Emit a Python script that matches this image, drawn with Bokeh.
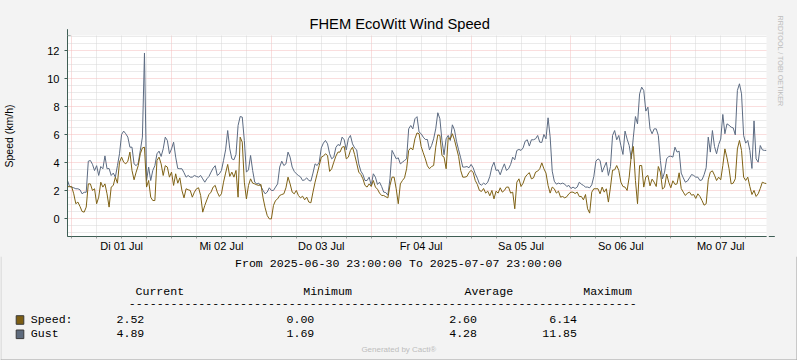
from bokeh.plotting import figure
from bokeh.layouts import column
from bokeh.models import Range1d, FixedTicker, Arrow, NormalHead, Title
from bokeh.core.properties import value
from bokeh.embed import file_html
from bokeh.resources import INLINE

# ---------------- data ----------------
title_text = "FHEM EcoWitt Wind Speed"
y_label = "Speed (km/h)"
side_text = "RRDTOOL / TOBI OETIKER"
footer_text = "Generated by Cacti\u00ae"
period_text = "From 2025-06-30 23:00:00 To 2025-07-07 23:00:00"

# half-hourly samples, hours since 2025-06-30 23:00 (0 ... 168)
speed = [
    2.3, 2.3, 2.3, 1.79, 1.08, 1.2, 0.89, 0.53, 0.48, 0.84,
    2.5, 2.5, 2.03, 2.15, 1.08, 1.55, 2.62, 2.27, 2.5, 1.79,
    0.84, 2.27, 2.39, 2.98, 2.55, 4.05, 4.41, 4.05, 3.93, 4.12,
    4.77, 3.46, 2.79, 3.34, 3.8, 4.65, 5.07, 5.12, 2.27, 2.74,
    1.55, 1.31, 1.31, 4.17, 4.41, 3.93, 3.1, 3.8, 3.7, 2.98,
    3.34, 2.39, 3.22, 2.55, 2.93, 2.03,
    1.5, 2.15, 2.08, 2.03, 1.55, 1.91, 2.15, 2.22, 1.67, 0.48,
    0.96, 1.36, 1.74, 1.91, 2.27, 2.39, 1.91, 1.6, 1.79, 2.62,
    3.27, 3.89, 3.03, 3.34, 2.98, 3.46, 1.55, 5.84, 5.48, 2.62,
    1.43, 2.39, 2.86, 2.55, 2.5, 2.43, 2.39, 2.46, 1.5, 0.79,
    0.24, 0.0, 0.0, 0.96, 1.31, 1.43, 1.67, 1.74, 1.79, 2.22,
    2.98, 2.5, 1.91, 1.79, 2.03, 1.67,
    1.5, 1.62, 1.36, 1.55, 1.2, 1.15, 1.91, 2.62, 3.22, 3.81,
    4.41, 4.48, 4.65, 4.53, 3.39, 3.58, 4.05, 4.48, 4.77, 4.77,
    5.12, 5.17, 4.29, 4.41, 4.89, 5.12, 4.6, 3.98, 3.34, 3.17,
    2.86, 2.39, 2.27, 2.5, 2.31, 2.74, 2.27, 2.12, 1.84, 1.67,
    1.67, 1.58, 1.5, 2.39, 2.98, 2.98, 2.15, 1.08, 2.5, 2.74,
    2.93, 3.58, 4.89, 5.07, 4.93, 5.72,
    6.14, 6.08, 5.17, 4.72, 4.29, 3.79, 3.58, 3.74, 3.81, 5.12,
    6.0, 5.96, 4.53, 4.41, 3.58, 5.79, 5.7, 6.08, 5.65, 5.05,
    4.46, 3.46, 2.98, 2.98, 3.03, 3.32, 3.46, 3.32, 2.74, 2.46,
    2.03, 1.96, 2.17, 1.84, 1.98, 1.65, 2.03, 1.43, 1.98, 1.84,
    2.22, 1.91, 2.03, 2.27, 2.27, 1.84, 1.91, 0.72, 2.62, 2.86,
    2.31, 2.55, 2.98, 3.17,
    3.3, 2.86, 2.93, 3.34, 3.41, 3.58, 4.0, 3.58, 3.27, 2.39,
    1.84, 2.27, 2.15, 1.84, 1.98, 1.55, 1.6, 1.5, 1.58, 1.79,
    1.91, 1.91, 1.81, 1.91, 1.6, 1.6, 1.36, 1.74, 0.72, 0.41,
    1.91, 2.15, 2.15, 2.15, 1.79, 2.27, 1.91, 2.15, 1.2, 2.27,
    3.48, 3.5, 3.81, 3.46, 2.62, 2.31, 2.27, 2.03, 2.98, 4.53,
    5.17, 2.74, 1.08, 3.81, 3.81, 2.27,
    3.0, 3.1, 2.36, 2.84, 2.62, 2.31, 3.74, 3.34, 2.12, 2.27,
    3.2, 2.62, 2.22, 2.72, 2.46, 2.5, 3.29, 2.17, 1.91, 1.67,
    1.84, 1.91, 1.69, 1.74, 1.46, 1.79, 1.6, 1.31, 0.98, 1.08,
    2.79, 3.34, 3.43, 3.12, 2.74, 2.98, 2.79, 3.81, 5.0, 4.36,
    3.58, 2.5, 2.55, 2.86, 5.0, 5.6, 4.89, 2.98, 2.74, 2.98,
    2.31, 1.74, 2.03, 1.6, 1.79, 2.17, 2.62, 2.55, 2.52,
]

gust = [
    2.74, 2.31, 2.27, 2.22, 2.15, 2.15, 2.08, 1.79, 1.9, 1.9,
    4.12, 4.17, 3.9, 3.45, 3.8, 3.1, 3.74, 3.58, 4.5, 3.58,
    3.6, 3.1, 3.27, 2.98, 3.8, 4.65, 6.03, 6.27, 6.08, 5.84,
    5.12, 5.12, 3.93, 3.8, 3.98, 4.89, 5.84, 11.85, 2.74, 3.7,
    2.74, 3.46, 3.8, 4.65, 4.84, 4.46, 5.0, 5.84, 5.6, 4.65,
    5.0, 5.48, 4.41, 3.6, 3.58, 3.58,
    3.3, 2.98, 3.1, 2.98, 2.98, 3.1, 3.03, 2.98, 3.1, 2.86,
    2.62, 2.86, 3.03, 3.34, 3.62, 3.8, 3.1, 3.22, 3.46, 4.17,
    4.93, 6.31, 5.0, 4.29, 4.22, 4.6, 6.67, 7.31, 7.27, 5.6,
    3.34, 3.5, 4.53, 3.46, 2.62, 2.5, 2.55, 2.31, 2.03, 1.79,
    1.91, 2.22, 2.03, 2.03, 2.27, 2.5, 3.7, 4.12, 3.81, 3.93,
    4.77, 4.41, 3.7, 3.39, 3.22, 3.1,
    3.0, 2.74, 2.79, 2.93, 2.74, 2.7, 3.27, 3.93, 3.81, 4.05,
    5.07, 5.41, 5.6, 5.36, 4.65, 4.29, 4.41, 5.1, 5.31, 5.24,
    5.84, 5.65, 4.93, 5.72, 5.96, 5.36, 5.07, 4.93, 3.93, 3.41,
    3.17, 2.74, 2.74, 2.98, 2.39, 3.22, 2.98, 2.46, 2.62, 2.31,
    1.91, 1.88, 1.69, 2.86, 4.89, 4.6, 4.29, 4.36, 3.93, 4.05,
    4.17, 4.29, 6.43, 6.67, 6.43, 7.15,
    7.3, 6.2, 6.08, 5.84, 5.67, 5.67, 4.93, 5.24, 5.72, 6.43,
    7.58, 7.15, 5.6, 4.58, 5.72, 5.96, 5.6, 6.72, 6.36, 5.53,
    4.93, 4.36, 3.7, 3.7, 3.74, 3.65, 3.89, 3.65, 3.22, 2.91,
    2.5, 2.41, 2.55, 2.46, 2.62, 3.03, 3.7, 4.05, 3.46, 3.5,
    3.15, 3.58, 3.93, 3.46, 3.58, 3.89, 4.41, 4.22, 4.89, 4.96,
    4.89, 5.07, 5.55, 5.65,
    5.2, 5.65, 5.65, 5.72, 5.96, 5.48, 5.46, 6.03, 5.72, 7.22,
    5.86, 3.41, 2.69, 2.48, 2.55, 2.5, 2.55, 2.48, 2.31, 2.39,
    2.17, 2.27, 2.17, 2.27, 2.62, 2.48, 2.39, 2.27, 2.27, 2.22,
    2.43, 3.03, 4.12, 4.29, 4.17, 3.34, 3.7, 4.05, 3.1, 3.74,
    5.96, 6.31, 5.65, 5.96, 5.24, 4.6, 6.27, 5.7, 5.24, 4.29,
    5.84, 7.31, 6.79, 8.93, 9.41, 9.17,
    7.7, 7.98, 6.43, 6.08, 6.43, 6.43, 5.96, 4.17, 2.86, 3.34,
    4.29, 4.46, 4.48, 4.41, 5.12, 4.77, 4.84, 3.27, 2.93, 2.62,
    2.7, 2.93, 3.17, 3.1, 2.98, 2.98, 2.74, 2.79, 3.15, 3.65,
    5.84, 4.77, 6.31, 5.17, 4.65, 5.31, 5.7, 7.46, 6.08, 6.79,
    6.69, 6.55, 6.5, 6.0, 9.17, 9.65, 8.93, 5.96, 5.41, 5.6,
    4.89, 3.6, 7.0, 4.29, 4.05, 5.24, 4.93, 4.89, 4.89,
]

hours = [k * 0.5 for k in range(len(gust))]

day_ticks = [13, 37, 61, 85, 109, 133, 157]
day_labels = ["Di 01 Jul", "Mi 02 Jul", "Do 03 Jul", "Fr 04 Jul", "Sa 05 Jul", "So 06 Jul", "Mo 07 Jul"]
midnights = [1, 25, 49, 73, 97, 121, 145]
y_ticks = [0, 2, 4, 6, 8, 10, 12]

series_names = ["Speed:", "Gust"]
stat_headers = ["Current", "Minimum", "Average", "Maximum"]
speed_stats = ["2.52", "0.00", "2.60", "6.14"]
gust_stats = ["4.89", "1.69", "4.28", "11.85"]

# ---------------- styles ----------------
SPEED_COLOR = "#7F6215"
SPEED_BOX = "#7D5E14"
GUST_COLOR = "#5C6B82"
GUST_BOX = "#5E6B7D"
AXIS_COLOR = "#3E5E55"
MGRID = "#F4BCBC"
GRID = "#D6D6D6"
BACK = "#F3F3F3"
SHADE_A = "#CFCFCF"
SHADE_B = "#9E9E9E"

W = 797
H_MAIN = 256
H_LEG = 104
FRAME_L, FRAME_R, FRAME_T, FRAME_B = 66, 766, 35, 236
X0, X1 = 0, 168
Y0, Y1 = -1.26, 13.1

p = figure(width=W, height=H_MAIN, output_backend="svg", toolbar_location=None,
           title=title_text,
           x_range=Range1d(X0, X1), y_range=Range1d(Y0, Y1),
           min_border_left=FRAME_L, min_border_right=W - FRAME_R,
           min_border_top=FRAME_T, min_border_bottom=H_MAIN - FRAME_B,
           background_fill_color="#FFFFFF", border_fill_color=BACK,
           outline_line_color=None)
p.frame_align = False

p.title.align = "left"
p.title.offset = 242
p.title.standoff = 7
p.title.text_font = "Liberation Sans"
p.title.text_font_size = "14.7px"
p.title.text_font_style = "normal"
p.title.text_color = "#000000"

p.add_layout(Title(text=side_text, align="left", offset=-20, standoff=18,
                   vertical_align="bottom",
                   text_font="Liberation Sans", text_font_size="7.2px",
                   text_font_style="normal", text_color="#BDBDBD"), "right")

# grids
six_hours = list(range(1, 168, 6))
minor_x = [h for h in six_hours if h not in midnights]
p.xgrid.ticker = FixedTicker(ticks=midnights, minor_ticks=minor_x)
p.xgrid.grid_line_color = MGRID
p.xgrid.grid_line_dash = "1 1"
p.xgrid.minor_grid_line_color = GRID
p.xgrid.minor_grid_line_dash = "1 1"

minor_y = [k * 0.5 for k in range(-2, 27) if (k * 0.5) not in y_ticks]
p.ygrid.ticker = FixedTicker(ticks=y_ticks, minor_ticks=minor_y)
p.ygrid.grid_line_color = MGRID
p.ygrid.grid_line_dash = "1 1"
p.ygrid.minor_grid_line_color = GRID
p.ygrid.minor_grid_line_dash = "1 1"

# axes
p.xaxis.ticker = FixedTicker(ticks=day_ticks, minor_ticks=[h for h in six_hours if h not in day_ticks])
p.xaxis.major_label_overrides = {t: l for t, l in zip(day_ticks, day_labels)}
p.xaxis.major_tick_line_color = "#A0A0A0"
p.xaxis.major_tick_out = 2
p.xaxis.major_tick_in = 0
p.xaxis.minor_tick_line_color = "#A0A0A0"
p.xaxis.minor_tick_out = 2
p.xaxis.minor_tick_in = 0
p.xaxis.major_label_standoff = 1
p.xaxis.axis_line_color = AXIS_COLOR
p.xaxis.major_label_text_font = "Liberation Sans"
p.xaxis.major_label_text_font_size = "11px"
p.xaxis.major_label_text_color = "#000000"

p.yaxis.ticker = FixedTicker(ticks=y_ticks)
p.yaxis.major_tick_out = 3
p.yaxis.major_tick_in = 0
p.yaxis.major_tick_line_color = AXIS_COLOR
p.yaxis.minor_tick_line_color = None
p.yaxis.major_label_standoff = 5
p.yaxis.axis_line_color = AXIS_COLOR
p.yaxis.major_label_text_font = "Liberation Sans"
p.yaxis.major_label_text_font_size = "11px"
p.yaxis.major_label_text_color = "#000000"
p.yaxis.axis_label = y_label
p.yaxis.axis_label_standoff = 29
p.yaxis.axis_label_text_font = "Liberation Sans"
p.yaxis.axis_label_text_font_size = "10.5px"
p.yaxis.axis_label_text_font_style = "normal"
p.yaxis.axis_label_text_color = "#000000"

# series
p.line(hours, gust, line_color=GUST_COLOR, line_width=1)
p.line(hours, speed, line_color=SPEED_COLOR, line_width=1)

# axis arrows (RRDtool style)
p.add_layout(Arrow(x_start=0, y_start=Y0, x_end=0, y_end=13.55,
                   line_color=AXIS_COLOR, line_width=1,
                   end=NormalHead(size=6, fill_color=AXIS_COLOR, line_color=AXIS_COLOR)))
p.add_layout(Arrow(x_start=0, y_start=Y0, x_end=170.0, y_end=Y0,
                   line_color=AXIS_COLOR, line_width=1,
                   end=NormalHead(size=6, fill_color=AXIS_COLOR, line_color=AXIS_COLOR)))


# outer frame of the image (top, left, right edges of the upper part)
def px_to_x(px):
    return X0 + (px - FRAME_L) * (X1 - X0) / (FRAME_R - FRAME_L)


def py_to_y(py):
    return Y1 - (py - FRAME_T) * (Y1 - Y0) / (FRAME_B - FRAME_T)


for (ax, ay, bx, by, col) in [(0.5, 0.5, W - 0.5, 0.5, SHADE_A),
                              (0.5, 0.5, 0.5, H_MAIN, SHADE_A),
                              (W - 0.5, 0.5, W - 0.5, H_MAIN, SHADE_B)]:
    p.add_layout(Arrow(x_start=px_to_x(ax), y_start=py_to_y(ay),
                       x_end=px_to_x(bx), y_end=py_to_y(by),
                       line_color=col, line_width=1, end=None))

# ---------------- legend / comment area ----------------
q = figure(width=W, height=H_LEG, output_backend="svg", toolbar_location=None,
           x_range=Range1d(0, W), y_range=Range1d(H_LEG, 0),
           x_axis_location=None, y_axis_location=None,
           min_border=0, min_border_left=0, min_border_right=0,
           min_border_top=0, min_border_bottom=0,
           background_fill_color=BACK, border_fill_color=BACK, outline_line_color=None)
q.frame_align = False
q.grid.visible = False

MONO = value("Liberation Mono")
MSIZE = value("11.6px")

q.text(x=[398], y=[7], text=[period_text], text_font=MONO, text_font_size=MSIZE,
       text_align="center", text_baseline="middle", text_color="#000000")
q.text(x=[135, 302.7, 464, 582.7], y=[35] * 4, text=stat_headers, text_font=MONO,
       text_font_size=MSIZE, text_align="left", text_baseline="middle", text_color="#000000")
q.text(x=[128.3], y=[47.3], text=["-" * 73], text_font=MONO, text_font_size=MSIZE,
       text_align="left", text_baseline="middle", text_color="#000000")

row_y = [62.8, 76.5]
box_y = [63.5, 77.8]
q.rect(x=[19.5, 19.5], y=box_y, width=7.6, height=8.6,
       fill_color=[SPEED_BOX, GUST_BOX], line_color="#3A3A3A", line_width=1)
q.text(x=[30.3, 30.3], y=row_y, text=series_names, text_font=MONO, text_font_size=MSIZE,
       text_align="left", text_baseline="middle", text_color="#000000")
stat_right = [143.8, 313.8, 476.5, 576.5]
for ry, stats in zip(row_y, [speed_stats, gust_stats]):
    q.text(x=stat_right, y=[ry] * 4, text=stats, text_font=MONO, text_font_size=MSIZE,
           text_align="right", text_baseline="middle", text_color="#000000")

q.text(x=[398.3], y=[93], text=[footer_text], text_font=value("Liberation Sans"),
       text_font_size=value("8px"), text_align="center", text_baseline="middle",
       text_color="#BDBDBD")

# outer frame of the image (lower part)
q.segment(x0=[0.5, W - 0.5, 0], y0=[0, 0, H_LEG - 0.5], x1=[0.5, W - 0.5, W],
          y1=[H_LEG, H_LEG, H_LEG - 0.5], line_color=[SHADE_A, SHADE_B, SHADE_B], line_width=1)

layout = column(p, q, spacing=0)
layout.styles = {"background-color": BACK}
open("out.html", "w").write(file_html(layout, INLINE))
